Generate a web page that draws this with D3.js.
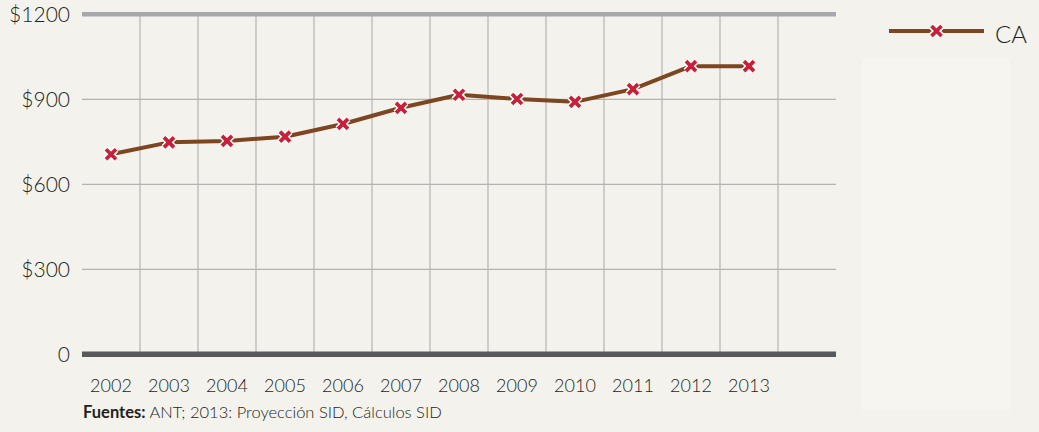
<!DOCTYPE html>
<html>
<head>
<meta charset="utf-8">
<script src="https://cdn.jsdelivr.net/npm/d3@7"></script>
<style>
  html, body { margin: 0; padding: 0; background: #f3f2ec; }
  svg { display: block; }
  text { font-family: Lato, "Open Sans", sans-serif; fill: #231f20; }
</style>
</head>
<body>
<svg id="chart" width="1039" height="432"></svg>
<script>
// Annual values for CA, in dollars
const years = ["2002","2003","2004","2005","2006","2007","2008","2009","2010","2011","2012","2013"];
const caValues = [706, 748, 753, 768, 813, 870, 916, 901, 891, 936, 1017, 1017];
const yTicks = [0, 300, 600, 900, 1200];
const yTickLabels = ["0", "$300", "$600", "$900", "$1200"];
const seriesName = "CA";
const sourceLabel = "Fuentes:";
const sourceText = " ANT; 2013: Proyección SID, Cálculos SID";

const svg = d3.select("#chart");
const plotLeft = 82, plotRight = 836, plotTop = 14.3, plotBottom = 354.3;

// one empty slot after the last year
const x = d3.scaleBand().domain(years)
  .range([plotLeft, plotRight - (plotRight - plotLeft) / (years.length + 1)]).padding(0);
const y = d3.scaleLinear().domain([0, 1200]).range([plotBottom, plotTop]);

// lighter panel behind the legend area
svg.append("rect")
  .attr("x", 862).attr("y", 58).attr("width", 148).attr("height", 352)
  .attr("fill", "#f6f5f0");

// vertical grid at band boundaries
const vLines = years.map(d => x(d) + x.bandwidth());
svg.append("g").selectAll("line").data(vLines).join("line")
  .attr("x1", d => d).attr("x2", d => d)
  .attr("y1", y(1200)).attr("y2", y(0))
  .attr("stroke", "#bdbdbd").attr("stroke-width", 1.4);

// horizontal grid
svg.append("g").selectAll("line").data(yTicks.filter(v => v > 0 && v < 1200)).join("line")
  .attr("x1", plotLeft).attr("x2", plotRight)
  .attr("y1", d => y(d)).attr("y2", d => y(d))
  .attr("stroke", "#b3b3b3").attr("stroke-width", 1.2);

// top rule and baseline
svg.append("line").attr("x1", plotLeft).attr("x2", plotRight).attr("y1", y(1200)).attr("y2", y(1200))
  .attr("stroke", "#a7a8ab").attr("stroke-width", 4.5);
svg.append("line").attr("x1", plotLeft).attr("x2", plotRight).attr("y1", y(0)).attr("y2", y(0))
  .attr("stroke", "#58595b").attr("stroke-width", 5.5);

// y labels
svg.append("g").selectAll("text").data(yTicks).join("text")
  .attr("x", 70).attr("y", d => y(d) + 8)
  .attr("text-anchor", "end")
  .attr("font-size", 21).attr("font-weight", 300)
  .text((d, i) => yTickLabels[i]);

// x labels
svg.append("g").selectAll("text").data(years).join("text")
  .attr("x", d => x(d) + x.bandwidth() / 2).attr("y", 392)
  .attr("text-anchor", "middle")
  .attr("font-size", 18).attr("font-weight", 300)
  .text(d => d);

// series line
const line = d3.line().x((d, i) => x(years[i]) + x.bandwidth() / 2).y(d => y(d));
svg.append("path").datum(caValues)
  .attr("d", line).attr("fill", "none")
  .attr("stroke", "#7d4520").attr("stroke-width", 4).attr("stroke-linejoin", "round");

// cross marker
function cross(g, cx, cy) {
  const s = 5;
  const p = `M${cx - s},${cy - s}L${cx + s},${cy + s}M${cx - s},${cy + s}L${cx + s},${cy - s}`;
  g.append("path").attr("d", p).attr("stroke", "#ffffff").attr("stroke-width", 6.8).attr("fill", "none");
  g.append("path").attr("d", p).attr("stroke", "#c8203a").attr("stroke-width", 3.8).attr("fill", "none");
}
const marks = svg.append("g");
caValues.forEach((v, i) => cross(marks, x(years[i]) + x.bandwidth() / 2, y(v)));

// legend
const lg = svg.append("g");
lg.append("line").attr("x1", 889).attr("x2", 984).attr("y1", 31).attr("y2", 31)
  .attr("stroke", "#7d4520").attr("stroke-width", 4);
cross(lg, 936.5, 31);
lg.append("text").attr("x", 995).attr("y", 43).attr("font-size", 24).attr("font-weight", 300).text(seriesName);

// source note
const src = svg.append("text").attr("x", 83).attr("y", 418).attr("font-size", 16.5);
src.append("tspan").attr("font-weight", 700).text(sourceLabel);
src.append("tspan").attr("font-weight", 300).text(sourceText);
</script>
</body>
</html>
